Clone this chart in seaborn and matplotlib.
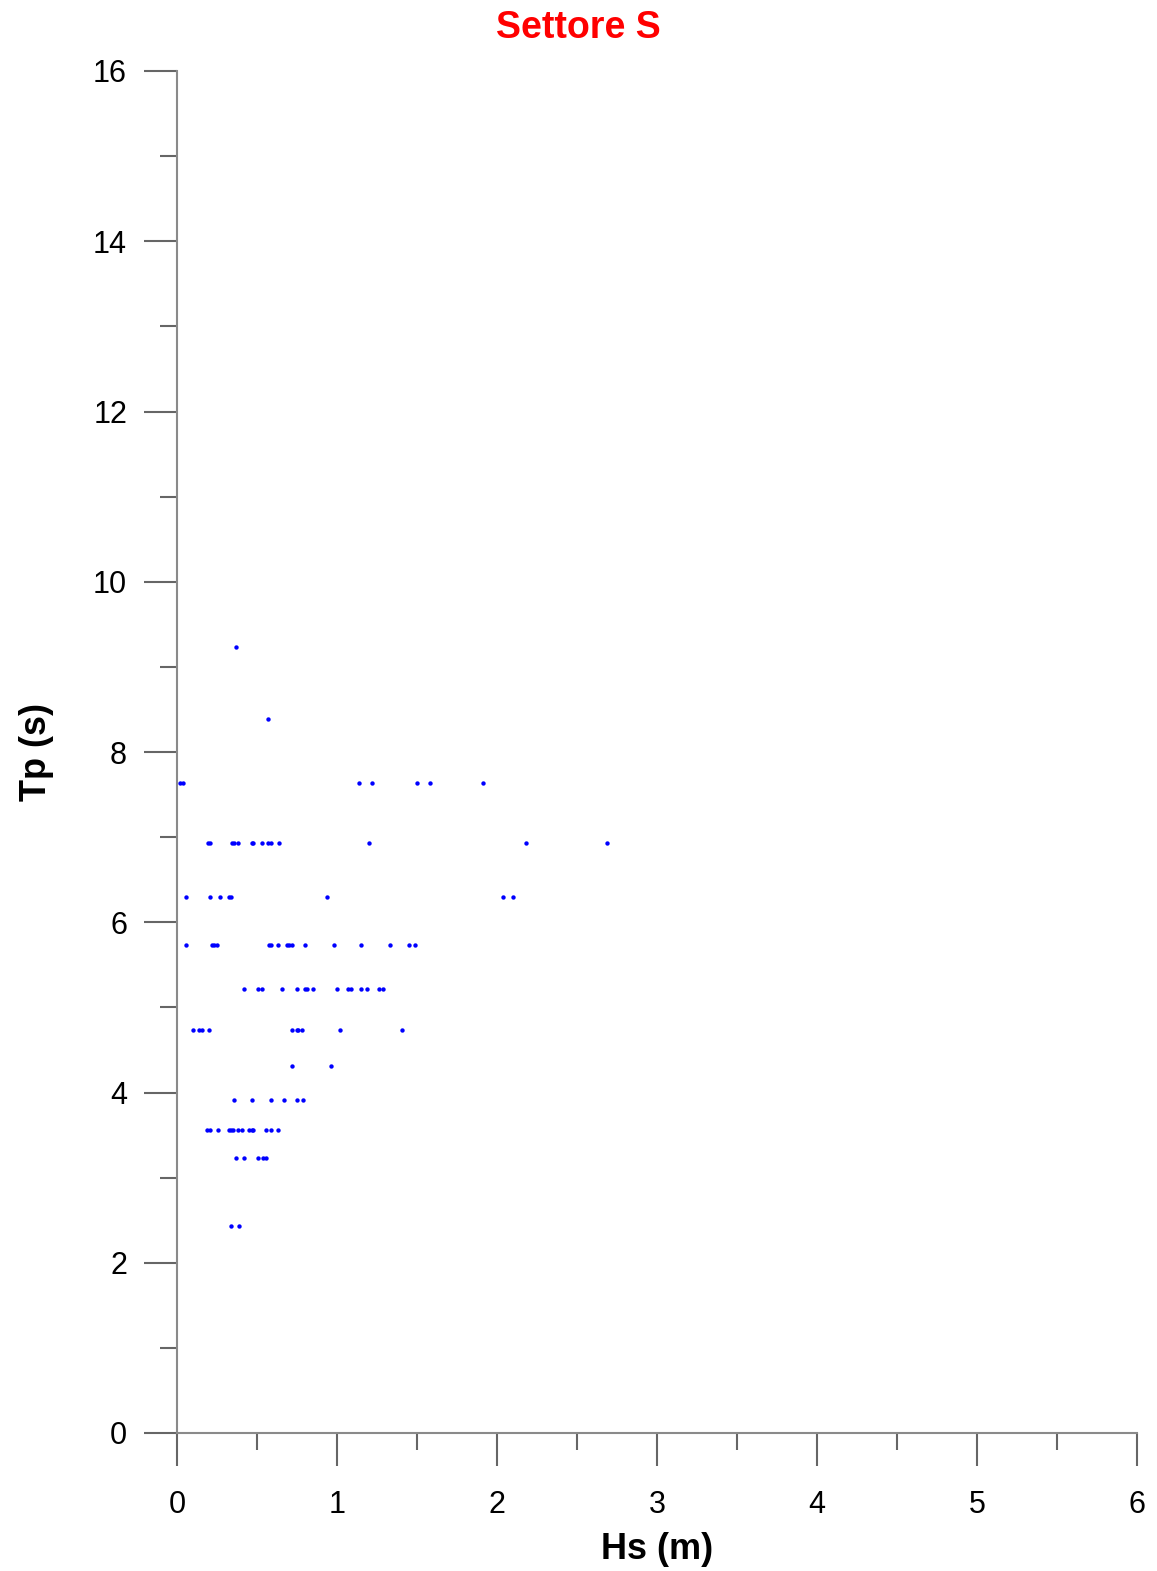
import matplotlib
matplotlib.use("Agg")
import matplotlib.pyplot as plt
from matplotlib.ticker import MultipleLocator
import seaborn as sns
import pandas as pd

# Significant wave height (m) of each sea state, grouped by peak period Tp (s)
tp_levels = [9.23, 8.39, 7.63, 6.93, 6.30, 5.73, 5.21, 4.74, 4.31, 3.91, 3.56, 3.23, 2.43]

hs_tp_9_23 = [0.371]
hs_tp_8_39 = [0.569]
hs_tp_7_63 = [0.019, 0.036, 1.14, 1.22, 1.50, 1.58, 1.91]
hs_tp_6_93 = [0.192, 0.206, 0.346, 0.356, 0.379, 0.469, 0.477, 0.529, 0.567,
              0.588, 0.639, 1.20, 2.18, 2.69]
hs_tp_6_30 = [0.058, 0.208, 0.269, 0.327, 0.338, 0.94, 2.04, 2.10]
hs_tp_5_73 = [0.058, 0.219, 0.233, 0.248, 0.577, 0.588, 0.629, 0.690, 0.700,
              0.721, 0.80, 0.979, 1.15, 1.33, 1.45, 1.49]
hs_tp_5_21 = [0.419, 0.508, 0.529, 0.658, 0.75, 0.798, 0.81, 0.85, 1.0, 1.069,
              1.09, 1.15, 1.19, 1.26, 1.29]
hs_tp_4_74 = [0.098, 0.1375, 0.158, 0.198, 0.719, 0.748, 0.758, 0.779, 1.019, 1.408]
hs_tp_4_31 = [0.719, 0.96]
hs_tp_3_91 = [0.358, 0.469, 0.59, 0.671, 0.75, 0.79]
hs_tp_3_56 = [0.185, 0.206, 0.258, 0.327, 0.3375, 0.348, 0.379, 0.408, 0.448,
              0.467, 0.477, 0.558, 0.59, 0.629]
hs_tp_3_23 = [0.369, 0.419, 0.508, 0.54, 0.558]
hs_tp_2_43 = [0.34, 0.39]

hs_groups = [hs_tp_9_23, hs_tp_8_39, hs_tp_7_63, hs_tp_6_93, hs_tp_6_30, hs_tp_5_73,
             hs_tp_5_21, hs_tp_4_74, hs_tp_4_31, hs_tp_3_91, hs_tp_3_56, hs_tp_3_23,
             hs_tp_2_43]

x_ticks = [0, 1, 2, 3, 4, 5, 6]
y_ticks = [0, 2, 4, 6, 8, 10, 12, 14, 16]

rows = []
for tp, hs_list in zip(tp_levels, hs_groups):
    for hs in hs_list:
        rows.append({"Hs": hs, "Tp": tp})
df = pd.DataFrame(rows)

sns.set_style("white")
plt.rcParams["font.family"] = ["Liberation Sans", "DejaVu Sans"]
plt.rcParams["text.color"] = "black"
plt.rcParams["axes.labelcolor"] = "black"

fig = plt.figure(figsize=(11.57, 15.71), dpi=100)
ax = fig.add_axes([177 / 1157, 1 - 1433 / 1571, 960 / 1157, (1433 - 71) / 1571])

sns.scatterplot(data=df, x="Hs", y="Tp", ax=ax, color="#0000ff", s=10,
                linewidth=0, marker="o", zorder=3, clip_on=False)

ax.set_xlim(0, 6)
ax.set_ylim(0, 16)
ax.set_xticks(x_ticks)
ax.set_yticks(y_ticks)
ax.xaxis.set_minor_locator(MultipleLocator(0.5))
ax.yaxis.set_minor_locator(MultipleLocator(1))

spine_col = "#8a8a8a"
tick_col = "#666666"
for side in ["top", "right"]:
    ax.spines[side].set_visible(False)
for side in ["left", "bottom"]:
    ax.spines[side].set_color(spine_col)
    ax.spines[side].set_linewidth(1.5)

ax.tick_params(axis="both", which="both", bottom=True, left=True, top=False, right=False)
ax.tick_params(axis="both", which="major", direction="out", length=24, width=1.5,
               color=tick_col, labelsize=22, labelcolor="black")
ax.tick_params(axis="both", which="minor", direction="out", length=12, width=1.5,
               color=tick_col)
ax.tick_params(axis="x", which="major", pad=17)
ax.tick_params(axis="y", which="major", pad=12)

ax.set_xlabel("Hs (m)", fontsize=26, fontweight="bold", labelpad=9)
ax.set_ylabel("Tp (s)", fontsize=26, fontweight="bold", labelpad=28)
fig.text(0.5, 1 - 28 / 1571, "Settore S", fontsize=27, fontweight="bold",
         color="#ff0000", ha="center", va="center")
ax.grid(False)

fig.savefig("out.png", dpi=100)
